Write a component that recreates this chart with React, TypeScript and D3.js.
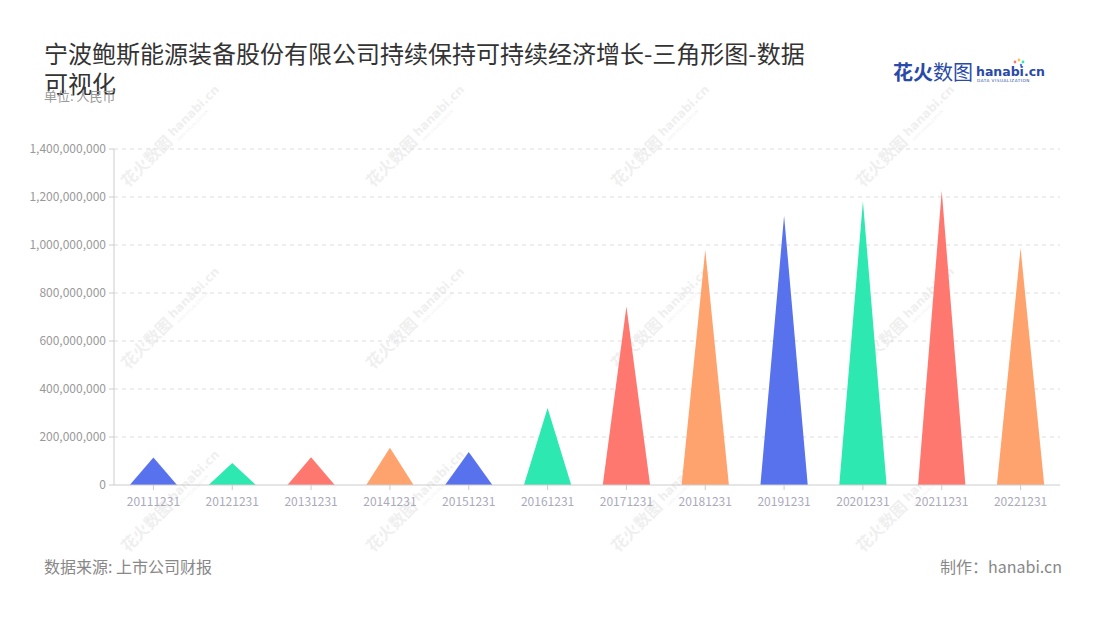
import React from 'react'
import * as d3 from 'd3'

const years = ['20111231', '20121231', '20131231', '20141231', '20151231', '20161231',
  '20171231', '20181231', '20191231', '20201231', '20211231', '20221231']
const values = [115e6, 92e6, 116e6, 155e6, 138e6, 321e6, 744e6, 980e6, 1122e6, 1182e6, 1226e6, 987e6]
const yTicks = [0, 2e8, 4e8, 6e8, 8e8, 10e8, 12e8, 14e8]
const palette = ['#5872ee', '#2de8b0', '#ff7870', '#ffa36e']

const W = 1100, H = 620
const m = { l: 114, r: 40, t: 149, b: 135 }
const CJK = '"Noto Sans CJK SC", "Noto Sans", sans-serif'
const LAT = '"DejaVu Sans", sans-serif'

const wmX = [128, 373, 618, 863]
const wmY = [188, 370, 553]

function Watermark({ x, y }: { x: number; y: number }) {
  return (
    <g transform={`translate(${x},${y}) rotate(-45)`} opacity={0.08} fill="#444">
      <text x={0} y={0} fontSize={16} fontWeight={700} fontFamily={CJK}>花火数图</text>
      <text x={68} y={-4} fontSize={12} fontWeight={700} fontFamily={LAT}>hanabi.cn</text>
      <text x={69} y={3} fontSize={4} fontFamily={LAT}>DATA VISUALIZATION</text>
    </g>
  )
}

export default function App() {
  const iW = W - m.l - m.r, iH = H - m.t - m.b
  const x = d3.scaleBand<string>().domain(years).range([0, iW]).padding(0)
  const y = d3.scaleLinear().domain([0, 14e8]).range([iH, 0])
  const fmt = d3.format(',')
  const tri = (d: string, v: number) => {
    const cx = x(d)! + x.bandwidth() / 2
    const hw = x.bandwidth() * 0.3
    const p = d3.path()
    p.moveTo(cx - hw, y(0)); p.lineTo(cx, y(v)); p.lineTo(cx + hw, y(0)); p.closePath()
    return p.toString()
  }

  return (
    <svg width={W} height={H} style={{ position: 'absolute', left: 0, top: 0, background: '#fff' }}>
      {/* title */}
      <text x={44} y={63} fontSize={24} fill="#333" fontFamily={CJK}>宁波鲍斯能源装备股份有限公司持续保持可持续经济增长-三角形图-数据</text>
      <text x={44} y={93} fontSize={24} fill="#333" fontFamily={CJK}>可视化</text>
      <text x={44} y={101} fontSize={13} fill="#999" fontFamily={CJK}>单位: 人民币</text>

      {/* logo */}
      <g>
        <text x={893} y={80} fontSize={20} fontWeight={700} fill="#2a4aa8" fontFamily={CJK}>花火</text>
        <text x={933} y={80} fontSize={20} fill="#2a4aa8" fontFamily={CJK}>数图</text>
        <text x={976} y={76} fontSize={12.5} fontWeight={700} fill="#2a4aa8" fontFamily={LAT}>hanabi.cn</text>
        <text x={977} y={82} fontSize={4.2} fill="#2a4aa8" fontFamily={LAT} letterSpacing={0.5}>DATA VISUALIZATION</text>
        <circle cx={1015} cy={62} r={1.4} fill="#ff7870" />
        <circle cx={1019} cy={60} r={1.4} fill="#ffc04d" />
        <circle cx={1023} cy={62} r={1.4} fill="#2de8b0" />
        <circle cx={1021} cy={65} r={1.2} fill="#5872ee" />
      </g>

      {wmX.map(wx => wmY.map(wy => <Watermark key={`${wx}-${wy}`} x={wx} y={wy} />))}

      <g transform={`translate(${m.l},${m.t})`}>
        {/* grid */}
        {yTicks.slice(1).map(t => (
          <line key={t} x1={0} x2={iW} y1={y(t)} y2={y(t)} stroke="#ddd" strokeDasharray="4,4" />
        ))}
        {/* y axis */}
        <line x1={0} x2={0} y1={0} y2={iH} stroke="#ccc" />
        {yTicks.map(t => (
          <g key={t} transform={`translate(0,${y(t)})`}>
            <line x1={-5} x2={0} stroke="#ccc" />
            <text x={-8} dy="0.35em" textAnchor="end" fontSize={12} fill="#999" fontFamily={CJK}>{fmt(t)}</text>
          </g>
        ))}

        {/* triangles */}
        {years.map((d, i) => (
          <path key={d} d={tri(d, values[i])} fill={palette[i % palette.length]} />
        ))}

        {/* x axis */}
        <line x1={0} x2={iW} y1={iH} y2={iH} stroke="#ccc" />
        {years.map(d => (
          <g key={d} transform={`translate(${x(d)! + x.bandwidth() / 2},${iH})`}>
            <line y1={0} y2={5} stroke="#ccc" />
            <text y={21} textAnchor="middle" fontSize={12} fill="#aab" fontFamily={CJK}>{d}</text>
          </g>
        ))}
      </g>

      {/* footer */}
      <text x={44} y={573} fontSize={16} fill="#888" fontFamily={CJK}>数据来源: 上市公司财报</text>
      <text x={1062} y={573} fontSize={16} fill="#888" textAnchor="end" fontFamily={CJK}>制作：hanabi.cn</text>
    </svg>
  )
}
